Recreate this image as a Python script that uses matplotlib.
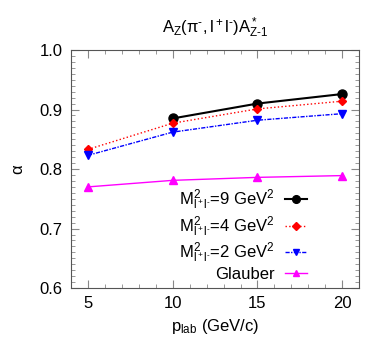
import numpy as np
import matplotlib
matplotlib.use("Agg")
import matplotlib.pyplot as plt
from matplotlib.ticker import MultipleLocator

plt.rcParams['font.family'] = ['Liberation Sans', 'DejaVu Sans']
plt.rcParams['mathtext.fontset'] = 'custom'
plt.rcParams['mathtext.rm'] = 'Liberation Sans'
plt.rcParams['mathtext.it'] = 'Liberation Sans:italic'

# data
p_lab = [5, 10, 15, 20]
p_lab9 = [10, 15, 20]
alpha_9 = [0.885, 0.910, 0.926]
alpha_4 = [0.833, 0.877, 0.901, 0.914]
alpha_2 = [0.823, 0.862, 0.882, 0.893]
alpha_glauber = [0.770, 0.781, 0.786, 0.789]

labels = [r'$\mathregular{M^2_{l^+l^{\text{-}}}}$=9 GeV$\mathregular{^2}$',
          r'$\mathregular{M^2_{l^+l^{\text{-}}}}$=4 GeV$\mathregular{^2}$',
          r'$\mathregular{M^2_{l^+l^{\text{-}}}}$=2 GeV$\mathregular{^2}$',
          'Glauber']

fig = plt.figure(figsize=(3.9, 3.57), dpi=100)
ax = fig.add_axes([0.182, 0.193, 0.739, 0.667])

ax.plot(p_lab9, alpha_9, color='black', lw=1.5, marker='o', ms=6.5, label=labels[0])
ax.plot(p_lab, alpha_4, color='red', lw=1, ls=':', marker='D', ms=4.5, label=labels[1])
ax.plot(p_lab, alpha_2, color='blue', lw=1, ls=(0, (3, 1, 1, 1)), marker='v', ms=5.5, label=labels[2])
ax.plot(p_lab, alpha_glauber, color='magenta', lw=1, marker='^', ms=5.5, label=labels[3])

ax.set_xlim(4, 21)
ax.set_ylim(0.6, 1.0)
ax.set_xticks([5, 10, 15, 20])
ax.set_yticks([0.6, 0.7, 0.8, 0.9, 1.0])
ax.set_yticklabels(['0.6', '0.7', '0.8', '0.9', '1.0'])
ax.xaxis.set_minor_locator(MultipleLocator(1))
ax.yaxis.set_minor_locator(MultipleLocator(0.01))
ax.tick_params(which='both', direction='in', top=True, right=True, labelsize=12, pad=6)
ax.tick_params(which='major', length=6, color='#888888')
ax.tick_params(which='minor', length=3, color='#888888')
for s in ax.spines.values():
    s.set_color('#555555')

ax.set_xlabel(r'p$\mathregular{_{lab}}$ (GeV/c)', fontsize=12)
ax.set_ylabel('α', fontsize=12, labelpad=10)
ax.set_title(r'$\mathregular{A_Z(\pi^{\text{-}},l^+l^{\text{-}})A^*_{Z\text{-}1}}$', fontsize=12, pad=12)

leg = ax.legend(loc='lower right', bbox_to_anchor=(0.82, 0.025), frameon=False,
                markerfirst=False, fontsize=12, handlelength=1.35, markerscale=0.85,
                labelspacing=0.12, borderaxespad=0, borderpad=0, handletextpad=0.6)

fig.savefig('out.png', dpi=100)
